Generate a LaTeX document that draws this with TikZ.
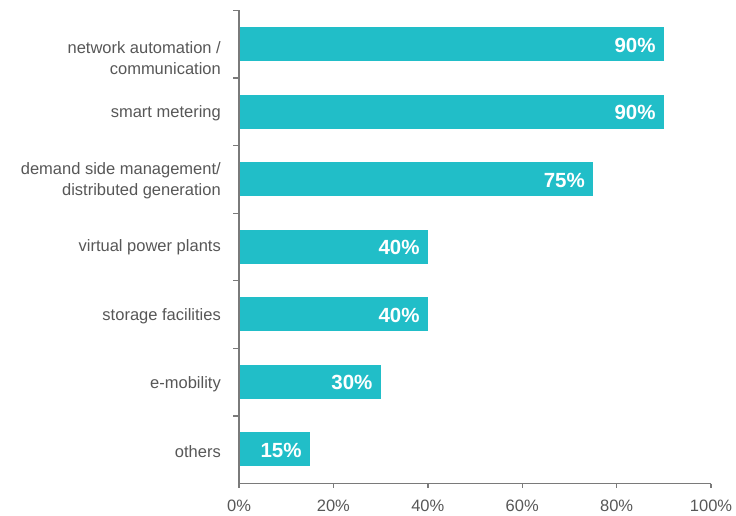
\documentclass[tikz,border=0pt]{standalone}
\usepackage{fontspec}
\setmainfont{Liberation Sans}
\definecolor{barc}{HTML}{21BEC8}
\definecolor{txtc}{HTML}{575757}
\definecolor{axc}{HTML}{7A7A7A}
\begin{document}
\begin{tikzpicture}[x=1pt,y=-1pt,
  bar/.style={fill=barc,draw=none},
  cat/.style={anchor=east,text=txtc,font=\fontsize{16.5}{21}\selectfont,align=right,inner sep=0pt},
  val/.style={anchor=east,text=white,font=\fontsize{20.5}{24}\selectfont\bfseries,inner sep=0pt},
  tl/.style={text=txtc,font=\fontsize{16.5}{20}\selectfont,inner sep=0pt},
  ax/.style={draw=axc,line width=1.4pt}]
\useasboundingbox (0,0) rectangle (736,516);
% axes
\coordinate (o) at (239,483.5);
\coordinate (top) at (239,10.5);
\coordinate (xe) at (711,483.5);
\draw[ax] (top) -- (o) -- (xe);
\foreach \k in {0,...,6} {
  \draw[ax] (233,{10.5+67.57*\k}) -- (239,{10.5+67.57*\k});
}
\foreach \k/\l in {0/0\%,1/20\%,2/40\%,3/60\%,4/80\%,5/100\%} {
  \draw[ax] ({239+94.4*\k},483.5) -- ({239+94.4*\k},488);
  \node[tl] (t\k) at ({239+94.4*\k},506) {\l};
}
% bars
\foreach \i/\v in {0/90,1/90,2/75,3/40,4/40,5/30,6/15} {
  \fill[barc] (240,{44+67.57*\i-17}) rectangle ({239+4.72*\v},{44+67.57*\i+17});
  \node[val] (v\i) at ({239+4.72*\v-8},{44+67.57*\i+1}) {\v\%};
}
% category labels
\node[cat] (c0) at (221,58) {network automation /\\communication};
\node[cat] (c1) at (221,113) {smart metering};
\node[cat] (c2) at (221,181) {demand side management/\\distributed generation};
\node[cat] (c3) at (221,247) {virtual power plants};
\node[cat] (c4) at (221,316) {storage facilities};
\node[cat] (c5) at (221,384) {e-mobility};
\node[cat] (c6) at (221,452) {others};
\end{tikzpicture}
\end{document}
